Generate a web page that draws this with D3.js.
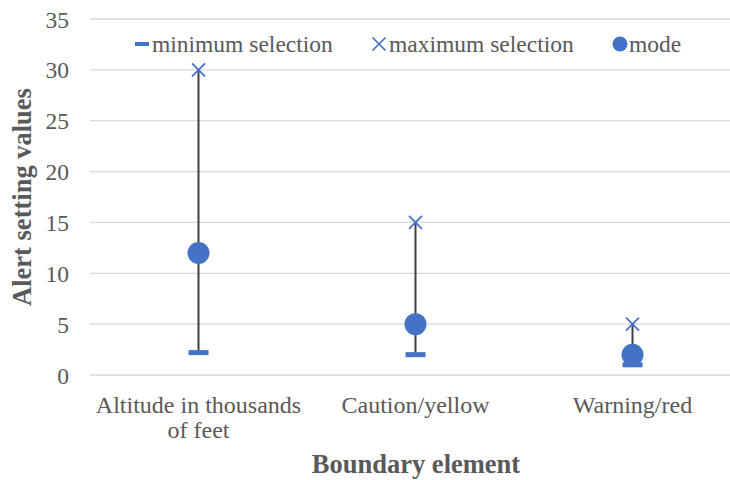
<!DOCTYPE html>
<html>
<head>
<meta charset="utf-8">
<script src="https://cdn.jsdelivr.net/npm/d3@7"></script>
<style>
  body { margin: 0; background: #fff; }
</style>
</head>
<body>
<svg id="chart" width="730" height="480"></svg>
<script>
"use strict";

var categories = [["Altitude in thousands", "of feet"], ["Caution/yellow"], ["Warning/red"]];
var minValues = [2.2, 2, 1];
var maxValues = [30, 15, 5];
var modeValues = [12, 5, 2];
var yTicks = [0, 5, 10, 15, 20, 25, 30, 35];
var legendLabels = ["minimum selection", "maximum selection", "mode"];

var blue = "#4472C4";
var textGray = "#595959";
var font = "Liberation Serif";

var svg = d3.select("#chart");
var margin = {left: 90, right: -11, top: 19, bottom: 105};
var width = 730 - margin.left - margin.right;
var height = 480 - margin.top - margin.bottom;

var x = d3.scaleBand().domain(d3.range(categories.length)).range([0, width]);
var y = d3.scaleLinear().domain([0, 35]).range([height, 0]);

var g = svg.append("g").attr("transform", "translate(" + margin.left + "," + margin.top + ")");

// gridlines
g.selectAll(".grid").data(yTicks).enter()
    .append("line")
        .attr("class", "grid")
        .attr("x1", 0).attr("x2", width)
        .attr("y1", function(d) { return y(d); })
        .attr("y2", function(d) { return y(d); })
        .attr("stroke", "#d9d9d9")
        .attr("stroke-width", 1.3);

// y axis labels
var yAxis = g.append("g")
    .call(d3.axisLeft(y).tickValues(yTicks).tickSize(0).tickPadding(21));
yAxis.attr("font-family", font).attr("font-size", 23.5);
yAxis.select(".domain").remove();
yAxis.selectAll("text")
    .attr("fill", textGray)
    .attr("dy", "0.34em");

// category labels
var cx = function(i) { return x(i) + x.bandwidth() / 2; };
var catLabels = g.selectAll(".cat").data(categories).enter()
    .append("text")
        .attr("class", "cat")
        .attr("x", function(d, i) { return cx(i); })
        .attr("y", height + 38)
        .attr("text-anchor", "middle")
        .attr("fill", textGray)
        .attr("font-family", font)
        .attr("font-size", 24);
catLabels.selectAll("tspan").data(function(d) { return d; }).enter()
    .append("tspan")
        .attr("x", function() { return d3.select(this.parentNode).attr("x"); })
        .attr("dy", function(d, i) { return i === 0 ? 0 : 25; })
        .text(function(d) { return d; });

// high-low lines
g.selectAll(".hilo").data(categories).enter()
    .append("line")
        .attr("class", "hilo")
        .attr("x1", function(d, i) { return cx(i); })
        .attr("x2", function(d, i) { return cx(i); })
        .attr("y1", function(d, i) { return y(minValues[i]); })
        .attr("y2", function(d, i) { return y(maxValues[i]); })
        .attr("stroke", "#404040")
        .attr("stroke-width", 2);

// min markers (dash)
g.selectAll(".min").data(minValues).enter()
    .append("rect")
        .attr("class", "min")
        .attr("x", function(d, i) { return cx(i) - 10; })
        .attr("y", function(d) { return y(d) - 2.5; })
        .attr("width", 20).attr("height", 5)
        .attr("fill", blue);

// max markers (x)
var xMark = function(sel, s) {
    sel.append("path")
        .attr("d", "M" + (-s) + "," + (-s) + "L" + s + "," + s + "M" + (-s) + "," + s + "L" + s + "," + (-s))
        .attr("stroke", blue)
        .attr("stroke-width", 1.7)
        .attr("fill", "none");
};
g.selectAll(".max").data(maxValues).enter()
    .append("g")
        .attr("class", "max")
        .attr("transform", function(d, i) { return "translate(" + cx(i) + "," + y(d) + ")"; })
        .call(xMark, 6.5);

// mode markers
g.selectAll(".mode").data(modeValues).enter()
    .append("circle")
        .attr("class", "mode")
        .attr("cx", function(d, i) { return cx(i); })
        .attr("cy", function(d) { return y(d); })
        .attr("r", 11)
        .attr("fill", blue);

// axis titles
svg.append("text")
    .attr("transform", "translate(31," + (margin.top + height / 2) + ") rotate(-90)")
    .attr("text-anchor", "middle")
    .attr("fill", textGray)
    .attr("font-family", font)
    .attr("font-size", 26.5)
    .attr("font-weight", "bold")
    .text("Alert setting values");

svg.append("text")
    .attr("x", 416)
    .attr("y", 473)
    .attr("text-anchor", "middle")
    .attr("fill", textGray)
    .attr("font-family", font)
    .attr("font-size", 26.5)
    .attr("font-weight", "bold")
    .text("Boundary element");

// legend
var legendX = [142, 379, 620];
var legend = svg.append("g").attr("transform", "translate(0,44)");
legend.append("rect").attr("x", legendX[0] - 7).attr("y", -2).attr("width", 14).attr("height", 4).attr("fill", blue);
legend.append("g").attr("transform", "translate(" + legendX[1] + ",0)").call(xMark, 6.5);
legend.append("circle").attr("cx", legendX[2]).attr("cy", 0).attr("r", 7.5).attr("fill", blue);
legend.selectAll(".ltext").data(legendLabels).enter()
    .append("text")
        .attr("class", "ltext")
        .attr("x", function(d, i) { return legendX[i] + (i === 2 ? 9 : 10); })
        .attr("y", 8)
        .attr("fill", textGray)
        .attr("font-family", font)
        .attr("font-size", 23.5)
        .text(function(d) { return d; });
</script>
</body>
</html>
